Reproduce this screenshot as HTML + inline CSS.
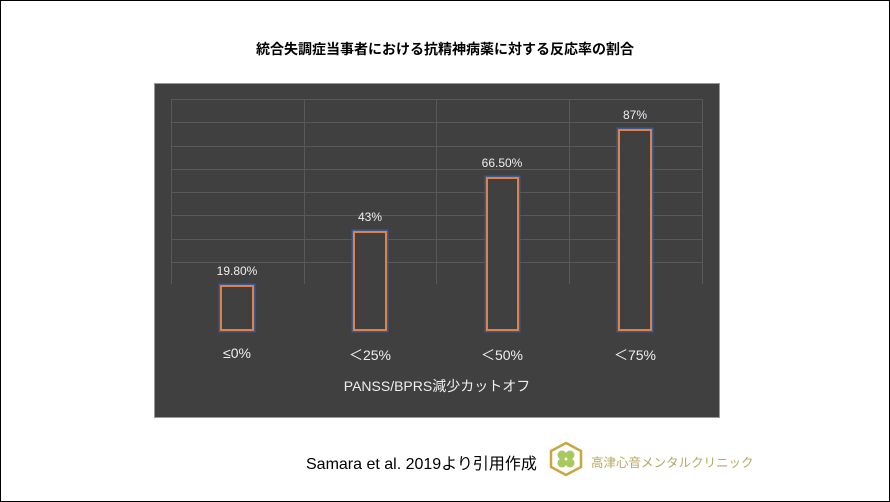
<!DOCTYPE html>
<html><head><meta charset="utf-8"><style>
body{margin:0;width:890px;height:502px;background:#fff;position:relative;overflow:hidden;font-family:"Liberation Sans","Noto Sans CJK JP",sans-serif}
.frame{position:absolute;left:0;top:0;width:888px;height:500px;border:1px solid #000}
.t{position:absolute;left:0;width:890px;text-align:center;top:39px;font-size:14px;font-weight:bold;color:#000}
.panel{position:absolute;left:154px;top:83px;width:566px;height:335px;background:#404040;border:1px solid #999;box-sizing:border-box}
.g{position:absolute;background:#595959}
.bar{position:absolute;border:2px solid #e0814a;box-shadow:0 0 0 1.5px #3a5a90;box-sizing:border-box;background:#404040}
.lb{position:absolute;color:#eee;font-size:12px;text-align:center;width:80px}
.cat{position:absolute;color:#eee;font-size:14px;text-align:center;width:100px;top:345px}
</style></head><body>
<div class="frame"></div>
<div class="t">統合失調症当事者における抗精神病薬に対する反応率の割合</div>
<div class="panel"></div>
<div class="g" style="left:171px;top:99px;width:531px;height:1px"></div>
<div class="g" style="left:171px;top:122px;width:531px;height:1px"></div>
<div class="g" style="left:171px;top:146px;width:531px;height:1px"></div>
<div class="g" style="left:171px;top:169px;width:531px;height:1px"></div>
<div class="g" style="left:171px;top:192px;width:531px;height:1px"></div>
<div class="g" style="left:171px;top:215px;width:531px;height:1px"></div>
<div class="g" style="left:171px;top:239px;width:531px;height:1px"></div>
<div class="g" style="left:171px;top:262px;width:531px;height:1px"></div>
<div class="g" style="left:171px;top:99px;width:1px;height:185px"></div>
<div class="g" style="left:304px;top:99px;width:1px;height:185px"></div>
<div class="g" style="left:436px;top:99px;width:1px;height:185px"></div>
<div class="g" style="left:569px;top:99px;width:1px;height:185px"></div>
<div class="g" style="left:702px;top:99px;width:1px;height:185px"></div>
<div class="bar" style="left:220px;top:285px;width:34px;height:46px"></div>
<div class="bar" style="left:353px;top:231px;width:34px;height:100px"></div>
<div class="bar" style="left:486px;top:177px;width:33px;height:154px"></div>
<div class="bar" style="left:618px;top:129px;width:34px;height:202px"></div>
<div class="lb" style="left:197px;top:264px">19.80%</div>
<div class="lb" style="left:330px;top:210px">43%</div>
<div class="lb" style="left:462px;top:156px">66.50%</div>
<div class="lb" style="left:595px;top:108px">87%</div>
<div class="cat" style="left:187px">≤0%</div>
<div class="cat" style="left:320px">＜25%</div>
<div class="cat" style="left:452px">＜50%</div>
<div class="cat" style="left:585px">＜75%</div>
<div style="position:absolute;left:154px;width:566px;top:376px;text-align:center;color:#eee;font-size:14px">PANSS/BPRS減少カットオフ</div>
<div style="position:absolute;left:306px;top:450px;font-size:16px;color:#000">Samara et al. 2019より引用作成</div>
<svg style="position:absolute;left:548px;top:441px" width="36" height="36"><polygon points="18,2 33,10 33,26 18,34 3,26 3,10" fill="none" stroke="#c9a640" stroke-width="2.5"/><circle cx="14" cy="14" r="4.5" fill="#a8c860"/><circle cx="22" cy="14" r="4.5" fill="#a8c860"/><circle cx="14" cy="22" r="4.5" fill="#a8c860"/><circle cx="22" cy="22" r="4.5" fill="#a8c860"/></svg>
<div style="position:absolute;left:591px;top:452px;font-size:12.5px;color:#b8a860">高津心音メンタルクリニック</div>
</body></html>
